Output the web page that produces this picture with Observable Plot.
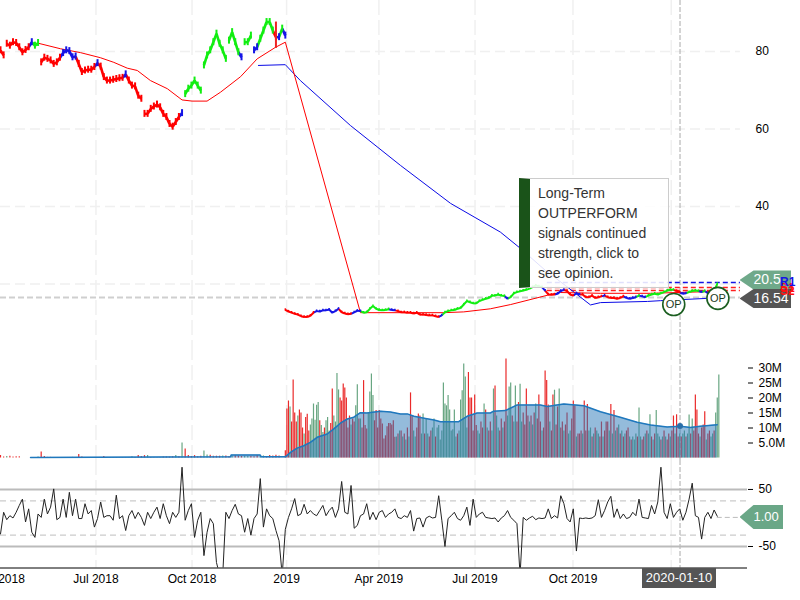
<!DOCTYPE html>
<html>
<head>
<meta charset="utf-8">
<style>
html,body{margin:0;padding:0;background:#fff;overflow:hidden}
#chart{position:relative;width:800px;height:600px;overflow:hidden;font-family:"Liberation Sans",Arial,sans-serif}
#chart svg{position:absolute;left:0}
.tag{position:absolute;color:#fff;font-size:14px;white-space:nowrap}
</style>
<script src="https://cdn.jsdelivr.net/npm/d3@7"></script>
<script src="https://cdn.jsdelivr.net/npm/@observablehq/plot@0.6"></script>
</head>
<body>
<div id="chart"></div>
<script>
// ---- axis
const tickBars = [0, 30.5, 61.2, 91.4, 120.9, 151.6, 182.9];
const tickLabels = ["Apr 2018", "Jul 2018", "Oct 2018", "2019", "Apr 2019", "Jul 2019", "Oct 2019"];
const gridBars = [30.5, 61.2, 91.4, 120.9, 151.6, 182.9, 214.3];
const cursorBar = 217.1;
const cursorDate = "2020-01-10";

// ---- price, one value per bar
const priceEarly = [
80.3,79,82,81.5,82.4,82.2,81.1,79.8,80.4,81.1,
82.4,81.5,82.2,77.2,78.4,78.1,77.7,76.8,77.2,78.4,
79.6,80.3,80.1,78.5,78.7,76.8,74.7,75.1,75.3,75.3,
76,77,76.1,73.4,72.5,72.5,72.7,72.9,73.1,73.2,
74.1,72.5,71.2,71,68.6,67.8,63.9,63.9,65.2,65.8,
66.3,65.6,63.9,63.1,61.3,60.6,61.8,63.1,64.1,69,
70.4,71.2,72.5,71.2,69.9,76.4,79,80.3,82.4,84.6,
82,80.3,78.1,82.8,85,82.4,79.8,78.5,82.4,82.4,
84.1,80.3,81.1,83.3,85.4,87.6,87.6,85.4,83.7,83.7,
85.9,84.1];
const priceEarlySignal = [["r",10],["b",1],["g",2],["r",7],["b",5],["r",6],["b",1],["r",8],["b",1],["r",17],["b",1],["g",18],["b",1],["g",3],["b",2],["g",5],["r",1],["b",1],["g",1],["b",1]];
const priceLateStart = 91;
const priceLate = [
13.3,12.9,12.6,12.3,12.1,11.7,11.5,11.5,11.8,12.6,
13,12.9,13.2,13.2,13.4,12.6,13,13.6,12.7,12.4,
12.2,12.3,12.7,13.1,13,12.6,12.7,13.6,14.3,13.6,
13.3,13.2,13.3,13.5,13.3,13.2,13,12.7,12.7,12.6,
12.6,12.4,12.6,12.1,12.1,12,11.9,11.9,11.7,11.5,
11.9,12.7,13,13.2,13.3,13.6,13.8,14.7,15.6,15.3,
15,15,15.6,15.9,16.2,16.4,17,17,17.3,17,
16.9,16.2,16.6,17.6,17.9,18.1,18.3,18.5,18.8,19.2,
19.6,19.4,19.2,18.3,17.3,17.2,17.3,17.5,18.2,18.5,
18.2,17.3,17,17.6,17.3,17.3,16.6,16.6,17,16.4,
16.6,16.8,17,16.6,16.4,16.4,16.2,16.4,16.8,16.4,
16.2,16.4,16.6,17,16.8,16.6,17,17.3,17.5,17.3,
17.6,17.9,18.3,18.5,18.5,18.2,17.8,17.5,17.6,17.9,
18.2,18.3,18.2,17.9,18.2,17.6,17.3,18.2,20];
const priceLateSignal = [["r",10],["b",8],["r",4],["b",3],["g",9],["b",2],["r",14],["b",1],["g",20],["b",1],["g",11],["b",1],["r",3],["b",3],["r",3],["b",2],["r",7],["b",1],["r",6],["b",4],["g",1],["b",2],["g",9],["r",2],["b",2],["g",4],["b",1],["g",1],["b",1],["g",3]];
const tallBar = {bar: 88, low: 80.8, high: 87.6};

// ---- moving averages: bar, value
const redAverageBars = [12.2,19.2,25.6,31.9,36.2,40.5,43.7,47.9,53.3,58,61.2,66,70.3,76.7,82,87.9,91,115,141.5,148,156.5,163,175.7,178.9,191.7,207.7,229];
const redAverage = [82.1,80.7,79.7,78.4,77.2,75.7,75.1,72.5,70.4,67.5,67.2,67.2,69.5,73.5,78.1,81.1,82.4,12.6,12.6,12.8,13.6,14.7,17.3,17.8,17.6,17.6,18.1];
const blueAverageBars = [82.4,91,95.8,111.8,127.8,143.8,159.7,166.1,174.1,180.5,188.5,191.7,206.7,210.9,225.9,229];
const blueAverage = [76.4,76.6,72.5,60.9,50.6,40.8,33.4,29.2,23.5,19.6,14.6,15.2,15.5,15.7,16.3,16.3];

// ---- levels and signals
const lastPrice = 16.54;
const resistance = 20.4;
const supports = [19.1, 18.3];
const opinionBars = [215.1, 229.2];
const opinionPrices = [14.7, 16.3];
const calloutLines = ["Long-Term", "OUTPERFORM", "signals continued", "strength, click to", "see opinion."];

// ---- volume in millions, negative means a down day (red), one value per bar
const volumeEarly = [
-.8,-.3,.5,-.6,-.3,-.4,-.4,0,0,0,
0,0,.3,-2,-.5,-.2,-.2,-.2,-.2,-.2,
-.2,-.2,-.1,-.2,-.1,-1.2,-.3,0,0,0,
0,-.1,-.1,-.5,-.2,-.2,-.2,-.2,-.1,-.1,
-.1,-.1,.4,-.2,-.8,-.5,-.8,.8,-.2,-.1,
-.1,-.1,-.3,-.3,-.3,-.4,.8,-.4,5,-3,
-.8,-.5,-.8,-.4,-.6,2.3,1,-.9,-.6,-.6,
-.6,.7,-.7,-.5,.7,-.8,-.7,-.5,.6,.5,
-.5,-.4,-.8,.7,.7,-.4,-.8,-.7,-.9,-.7];
const volumeLateStart = 91; // two values per bar from here on
const volumeLate = [
-2.4,-16.3,-19,17,-12,-26,-15,-12,14,-16,
-15,-10,8,-13.5,-14.6,-9,11,13,18,12.6,
17.6,18.5,-12.4,10.8,8.5,-10,12.4,13.5,9,-11.5,
-23,14,12,28.2,22.7,-20,-19,-24.7,-23.3,-20,
-10,-14,11,-13,-12,17.4,24.4,-13,13,-10,
-25.8,-10.8,-9.7,15,22,28,20.8,-12.4,-15.8,-10,
-15.8,-13,-11.3,-6.3,-7.4,-10.4,-11.5,-11.5,-11,-12.4,
-6.9,7,-8,9,-9,7,-8,6,-10,7,
-21.7,-14,9,7,-10,-14.7,-14,8,14.7,-8,
13,8,-7,-9,10,13,-7,10,10.8,6,
9,25,18,17.4,20.8,16,9,9.4,16,7,
-8,9,19.3,22.4,31.3,27,10,-28.5,-20,-20,
-9,-21,-10.8,9,8,-12,-10,18,-16,10,
-9,-12,9,23,-24,14,10,-9,-13,10,
-12,-33,14,23.7,25,-14,12,24,-12,-18.5,
24.6,12,-15,-11,-23,-14,12,-14,11,-15,
18,-13,-21,-12,9,-10,-29,-25.8,-17.7,12,
-9,-21,22.6,-11,-17,23,-10,-12,9,-11,
-15,8,9,-13,-19,-17.4,7,-8,-8,-9,
8,-19,-9,-17.8,9,10,-7,8,-10,9,
8,-7,-12,7,-9,-12,-12,9,-17.8,8,
-15.8,9,-10,11,-8,9,-7,8,-9,-10,
7,-6,7,6,8,-7,16.7,7,-6,-7,
8,-9,8,14.4,-7,6,-8,15.8,8,7,
-6,7,-9,7,-6,-8,7,-9,-14,8,
-14.4,-7,8,-7,8,9,-7,8,14.3,-8,
13,-9,-21,-16,-8,7,-10,-11,-15.4,6,
-8,-9,7,8,-9,15,20,27.7];
const lastVolumeAverage = 10.7;
const volumeAverageBars = [9.6,73.5,73.7,83,83.3,91,92.7,94.8,96.9,99,101.2,104.4,106.5,108.6,110.8,112.9,115,117.1,121.4,124.6,127.8,130,132.1,135.8,138.5,140.6,146.4,149.1,152.3,156.5,157.6,161.3,165.1,172.5,174.7,177.8,180,186.4,191.7,198,203.4,207.7,213,217.3,220.4,223.6,229];
const volumeAverage = [.2,.4,1,1,.4,.4,1.9,3.3,4.1,5.2,6.9,8,9.7,11.6,13,13.6,15.1,15,15.6,15.3,14.7,14.7,13.9,13.2,12.7,12.1,12.1,13.9,15,15,15.6,15.8,17.7,17.7,17.2,17.7,18,17.4,15.4,13.6,11.9,11,10.3,10.6,10.2,10.6,11.1];

// ---- oscillator, one value per bar
const oscillator = [
-28,10,-3,4,0,10,22,33,-7,16,
-25,-34,7,1,33,7,19,51,-3,1,
33,1,45,4,33,-1,-1,25,7,13,
-16,-1,28,1,4,4,-4,40,-1,4,
-22,4,13,-1,10,1,-13,10,-1,10,
19,-1,25,4,-10,10,1,10,89,-4,
13,25,-34,-4,10,-66,-25,-1,-10,-78,
-100,-100,10,-1,13,24,7,4,-25,-1,
-30,-1,7,69,-16,16,4,-1,-22,-40,
-100,-20,1,16,34,4,7,24,7,13,
7,4,13,22,4,13,19,1,16,64,
10,7,57,-18,-13,4,7,25,-3,10,
-3,10,13,1,7,10,16,1,-1,4,
1,13,-23,-1,0,-16,0,3,0,1,
39,-4,-50,-1,4,10,-1,-4,4,19,
-13,33,1,7,10,1,0,-1,0,-7,
0,4,13,1,-4,-10,-100,1,-4,0,
3,-3,0,-1,0,16,-1,4,0,39,
25,-1,-7,16,-58,0,-1,0,-1,0,
4,32,1,13,28,38,1,16,-1,7,
-1,1,10,4,33,1,0,-1,22,7,
28,89,10,-1,25,1,10,16,-4,10,
33,61,4,1,-37,1,10,-1,14,3];
const lastOscillator = 1;
const oscBands = [50, -50];
const oscGuides = [30, -30];
const oscAxisValues = [50, -50];

// ---- palette
const signalColor = {r: "#ff0000", g: "#11ee11", b: "#1515e6"};
const volumeRed = "#ea2a2a", volumeGreen = "#68a682";

const expandRuns = runs => runs.flatMap(([k, n]) => Array(n).fill(k));
const earlySignals = expandRuns(priceEarlySignal), lateSignals = expandRuns(priceLateSignal);
const earlyData = priceEarly.map((v, i) => ({bar: i, v, c: signalColor[earlySignals[i] || "r"]}));
const lateData = priceLate.map((v, i) => ({bar: priceLateStart + i, v, c: signalColor[lateSignals[i] || "g"]}));
const steps = (data, limit) => data.slice(1).map((d, i) => ({x1: data[i].bar, y1: data[i].v, x2: d.bar, y2: d.v, c: d.c, jump: Math.abs(d.v - data[i].v)})).filter(d => d.jump < limit);
const avg = (bars, vals) => bars.map((bar, i) => ({bar, v: vals[i]}));
const volData = [
  ...volumeEarly.map((v, i) => ({bar: i, v})),
  ...volumeLate.map((v, i) => ({bar: volumeLateStart + i / 2, v}))
];
const oscData = oscillator.map((v, i) => ({bar: i, v}));

const xScale = {domain: [0, 238.66], range: [0, 747], axis: null};
const common = {width: 800, marginLeft: 0, marginRight: 53, marginTop: 0, marginBottom: 0, x: xScale,
  color: {type: "identity"},
  style: {fontFamily: '"Liberation Sans",Arial,sans-serif', fontSize: "12px", color: "#000", background: "transparent"}};
const grid = Plot.ruleX(gridBars, {stroke: "#f0f0f0", strokeWidth: 1.5, strokeDasharray: "15,5"});
const cursor = Plot.ruleX([cursorBar], {stroke: "#aaa", strokeDasharray: "5,2"});

const pricePlot = Plot.plot({...common, height: 345,
  y: {domain: [4.13, 93.16], range: [345, 0], axis: null},
  marks: [
    grid,
    Plot.ruleY([80, 60, 40, 20], {x1: 0, x2: 236.4, stroke: "#f0f0f0", strokeWidth: 1.5, strokeDasharray: "10,5"}),
    Plot.ruleY([lastPrice], {x1: 0, x2: 236.4, stroke: "#cfcfcf", strokeWidth: 2, strokeDasharray: "6,3"}),
    cursor,
    Plot.ruleY([resistance], {x1: 174.7, x2: 236.4, stroke: "#1515e6", strokeWidth: 1.5, strokeDasharray: "5,3"}),
    Plot.ruleY(supports, {x1: 174.7, x2: 236.4, stroke: "#ff2020", strokeWidth: 1.5, strokeDasharray: "5,3"}),
    Plot.line(avg(blueAverageBars, blueAverage), {x: "bar", y: "v", stroke: "#0a0ae6", strokeWidth: 1}),
    Plot.line(avg(redAverageBars, redAverage), {x: "bar", y: "v", stroke: "#ff0000", strokeWidth: 1}),
    Plot.link(steps(earlyData, 2.7), {x1: "x1", y1: "y1", x2: "x2", y2: "y2", stroke: "c", strokeWidth: 2.6}),
    Plot.ruleX(earlyData, {x: "bar", y1: d => d.v - 0.9, y2: d => d.v + 0.9, stroke: "c", strokeWidth: 2}),
    Plot.ruleX([tallBar], {x: "bar", y1: "low", y2: "high", stroke: "#ee2222", strokeWidth: 2}),
    Plot.link(steps(lateData, 3), {x1: "x1", y1: "y1", x2: "x2", y2: "y2", stroke: "c", strokeWidth: 2}),
    Plot.ruleX(lateData, {x: "bar", y1: d => d.v - 0.3, y2: d => d.v + 0.3, stroke: "c", strokeWidth: 1.5}),
    Plot.dot(opinionBars.map((bar, i) => ({bar, v: opinionPrices[i]})), {x: "bar", y: "v", r: 11, fill: "#fff", stroke: "#1b5e20", strokeWidth: 1.6}),
    Plot.text(opinionBars.map((bar, i) => ({bar, v: opinionPrices[i]})), {x: "bar", y: "v", text: () => "OP", fill: "#1d3a1d", fontSize: 11}),
    Plot.axisY({anchor: "right", label: null, ticks: [80, 60, 40], tickSize: 0, tickPadding: 8, tickFormat: d => d, fontSize: 12})
  ]});
pricePlot.style.top = "0px";

const volumePlot = Plot.plot({...common, height: 115,
  y: {domain: [-0.83, 37.5], range: [115, 0], axis: null},
  marks: [
    grid, cursor,
    Plot.ruleX(volData, {x: "bar", y1: 0, y2: d => Math.abs(d.v), stroke: d => d.v < 0 ? volumeRed : volumeGreen, strokeWidth: 1.2}),
    Plot.areaY(avg(volumeAverageBars, volumeAverage), {x: "bar", y: "v", fill: "#2a78b8", fillOpacity: 0.5}),
    Plot.line(avg(volumeAverageBars, volumeAverage), {x: "bar", y: "v", stroke: "#1f78bd", strokeWidth: 1.5}),
    Plot.dot([{bar: cursorBar, v: lastVolumeAverage}], {x: "bar", y: "v", r: 3, fill: "#2a6fa8"}),
    Plot.axisY({anchor: "right", label: null, ticks: [30, 25, 20, 15, 10, 5], tickSize: 5, tickPadding: 6, tickFormat: d => d === 5 ? "5.0M" : d + "M", fontSize: 12})
  ]});
volumePlot.style.top = "345px";

const oscPlot = Plot.plot({...common, height: 140, marginBottom: 32.5,
  y: {domain: [-87.7, 92], range: [107.5, 5], axis: null},
  marks: [
    grid, cursor,
    Plot.ruleY(oscBands, {x1: 0, x2: 238.66, stroke: "#bbb", strokeWidth: 2}),
    Plot.ruleY(oscGuides, {x1: 0, x2: 238.66, stroke: "#ccc", strokeWidth: 1.2, strokeDasharray: "6,4"}),
    Plot.ruleY([lastOscillator], {x1: 229, x2: 236.4, stroke: "#bbb", strokeDasharray: "5,3"}),
    Plot.line(oscData, {x: "bar", y: "v", stroke: "#222", strokeWidth: 1, clip: "frame"}),
    Plot.ruleY([-87.7], {x1: 0, x2: 238.66, stroke: "#000", strokeWidth: 1}),
    Plot.axisY({anchor: "right", label: null, ticks: oscAxisValues, tickSize: 5, tickPadding: 6, tickFormat: d => d, fontSize: 12}),
    Plot.axisX({anchor: "bottom", label: null, ticks: tickBars, tickSize: 0, tickPadding: 6, fontSize: 12,
      tickFormat: d => tickLabels[tickBars.indexOf(d)]})
  ]});
oscPlot.style.top = "460px";

const chart = document.getElementById("chart");
chart.append(pricePlot, volumePlot, oscPlot);

// ---- overlays anchored on the scales
const yPrice = v => pricePlot.scale("y").apply(v);
const yOsc = v => oscPlot.scale("y").apply(v) + 460;
const xBar = b => pricePlot.scale("x").apply(b);

function tag(text, midY, h, right, bg, fontSize) {
  const d = document.createElement("div");
  d.className = "tag";
  const left = 739.5, w = right - left;
  d.style.cssText = `left:${left}px;top:${midY - h / 2}px;width:${w}px;height:${h}px;line-height:${h}px;background:${bg};` +
    `clip-path:polygon(0 50%,14px 0,100% 0,100% 100%,14px 100%);font-size:${fontSize}px;padding-left:14px;box-sizing:border-box;`;
  d.textContent = text;
  chart.append(d);
  return d;
}
tag("20.5", yPrice(resistance) - 2, 19, 791, "#6fa98a", 14);
tag(lastPrice.toFixed(2), yPrice(lastPrice) + 1.5, 19, 791, "#555", 14);
tag(lastOscillator.toFixed(2), yOsc(lastOscillator), 24, 783, "#6aa787", 13);

function label(text, y, color) {
  const d = document.createElement("div");
  d.style.cssText = `position:absolute;left:780px;top:${y - 7}px;line-height:14px;font-size:12px;font-weight:bold;color:${color};`;
  d.textContent = text;
  chart.append(d);
}
label("S1", yPrice(supports[0]) + 1, "#ff1010");
label("S2", yPrice(supports[1]) + 1, "#ff1010");
label("R1", yPrice(resistance), "#1515e6");

const dateTag = document.createElement("div");
dateTag.style.cssText = `position:absolute;left:${xBar(cursorBar) - 37.5}px;top:568px;width:74px;height:20px;line-height:20px;background:#555;color:#fff;font-size:13px;text-align:center;`;
dateTag.textContent = cursorDate;
chart.append(dateTag);

const box = document.createElement("div");
box.style.cssText = "position:absolute;left:519px;top:178px;width:150px;height:110px;box-sizing:border-box;background:rgba(255,255,255,.87);border:1px solid #ccc;border-left:11px solid #1a5319;color:#333;font-size:14px;line-height:20px;padding:4px 0 0 8px;";
box.innerHTML = calloutLines.join("<br>");
chart.append(box);
</script>
</body>
</html>
